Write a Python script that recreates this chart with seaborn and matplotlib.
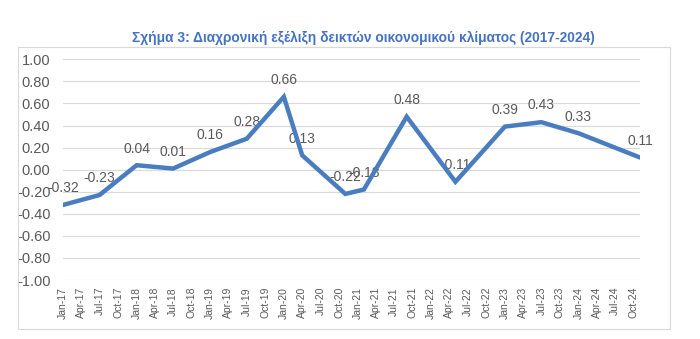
import matplotlib
matplotlib.use("Agg")
import matplotlib.pyplot as plt
import matplotlib.dates as mdates
from matplotlib.patches import Rectangle
import pandas as pd
import seaborn as sns

# Survey dates and index values
dates = ["2017-01-01", "2017-07-01", "2018-01-01", "2018-07-01", "2019-01-01",
         "2019-07-01", "2020-01-01", "2020-04-01", "2020-11-01", "2021-02-01",
         "2021-09-01", "2022-05-01", "2023-01-01", "2023-07-01", "2024-01-01",
         "2024-11-01"]
values = [-0.32, -0.23, 0.04, 0.01, 0.16, 0.28, 0.66, 0.13, -0.22, -0.18,
          0.48, -0.11, 0.39, 0.43, 0.33, 0.11]
y_ticks = [1.0, 0.8, 0.6, 0.4, 0.2, 0.0, -0.2, -0.4, -0.6, -0.8, -1.0]
title = "Σχήμα 3: Διαχρονική εξέλιξη δεικτών οικονομικού κλίματος (2017-2024)"

df = pd.DataFrame({"date": pd.to_datetime(dates), "value": values})

sns.set_style("white")
plt.rcParams["font.family"] = ["Liberation Sans", "DejaVu Sans"]

W, H = 700, 339
fig = plt.figure(figsize=(W / 100, H / 100), dpi=100)
ax = fig.add_axes([63 / W, 1 - 280 / H, (640 - 63) / W, (280 - 59.3) / H])

line_color = "#4A7DBF"
text_color = "#595959"

sns.lineplot(data=df, x="date", y="value", ax=ax, color=line_color,
             linewidth=3.2, zorder=3, solid_joinstyle="miter")

for d, v in zip(df["date"], df["value"]):
    ax.annotate(f"{v:.2f}", (d, v), xytext=(0, 7), textcoords="offset points",
                ha="center", va="bottom", fontsize=10, color=text_color,
                zorder=2)

ax.set_ylim(-1.0, 1.0)
ax.set_yticks(y_ticks)
ax.set_yticklabels([f"{t:.2f}" for t in y_ticks], fontsize=10.5,
                   color=text_color)
ax.set_xlim(pd.Timestamp("2017-01-01"), pd.Timestamp("2024-11-01"))
ax.xaxis.set_major_locator(mdates.MonthLocator(bymonth=[1, 4, 7, 10]))
ax.xaxis.set_major_formatter(mdates.DateFormatter("%b-%y"))
plt.setp(ax.get_xticklabels(), rotation=90, fontsize=7.5, color=text_color)
ax.tick_params(axis="both", length=0, pad=5)
ax.tick_params(axis="y", pad=9)
ax.set_xlabel("")
ax.set_ylabel("")
ax.grid(axis="y", color="#D9D9D9", linewidth=0.8)
ax.grid(axis="x", visible=False)
for s in ax.spines.values():
    s.set_visible(False)

# Chart frame
fig.patches.append(Rectangle((18 / W, 1 - 329 / H), (670 - 18) / W,
                             (329 - 47) / H, transform=fig.transFigure,
                             fill=False, edgecolor="#D9D9D9", linewidth=0.8))

fig.text(363 / W, 1 - 38 / H, title, ha="center", va="center",
         fontsize=9.9, fontweight="bold", color="#4472C4")

fig.savefig("out.png", dpi=100)
